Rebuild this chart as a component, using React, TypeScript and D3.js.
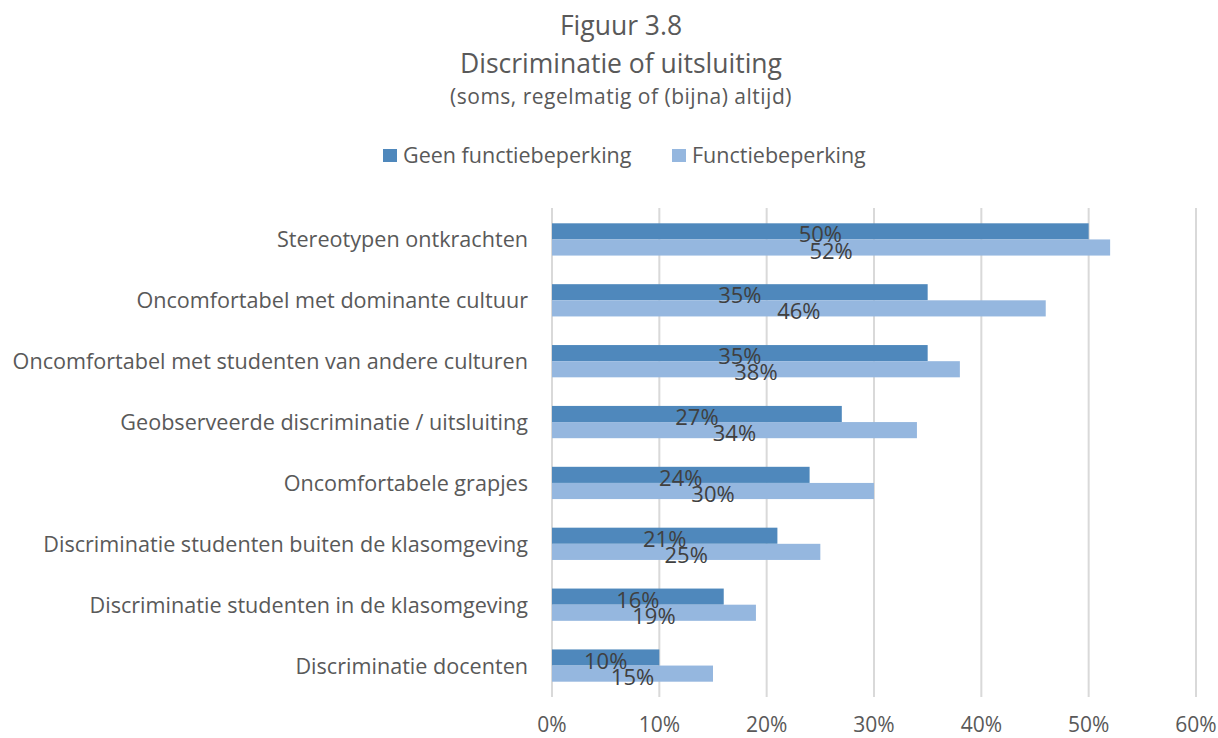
import React from "react";
import * as d3 from "d3";

const categories = [
  "Stereotypen ontkrachten",
  "Oncomfortabel met dominante cultuur",
  "Oncomfortabel met studenten van andere culturen",
  "Geobserveerde discriminatie / uitsluiting",
  "Oncomfortabele grapjes",
  "Discriminatie studenten buiten de klasomgeving",
  "Discriminatie studenten in de klasomgeving",
  "Discriminatie docenten",
];
const seriesNames = ["Geen functiebeperking", "Functiebeperking"];
const geenValues = [50, 35, 35, 27, 24, 21, 16, 10];
const functieValues = [52, 46, 38, 34, 30, 25, 19, 15];
const tickValues = [0, 10, 20, 30, 40, 50, 60];

const colors = ["#4f88bc", "#95b7df"];
const textColor = "#595959";
const font = "'Open Sans', Lato, sans-serif";

const App = () => {
  const width = 1218;
  const height = 738;
  const x = d3.scaleLinear().domain([0, 60]).range([552, 1196]);
  const y = d3.scaleBand().domain(categories).range([209, 696]).paddingInner(0.47).paddingOuter(0.235);
  const sub = d3.scaleBand().domain(seriesNames).range([0, y.bandwidth()]);
  const series = [geenValues, functieValues];

  const cells = categories.flatMap((c, ci) =>
    seriesNames.map((s, si) => ({
      key: `${ci}-${si}`,
      si,
      v: series[si][ci],
      by: (y(c) ?? 0) + (sub(s) ?? 0),
    }))
  );

  return (
    <svg width={width} height={height} style={{ position: "absolute", left: 0, top: 0 }} fontFamily={font}>
      <rect width={width} height={height} fill="#fff" />
      <text x={621} y={35} textAnchor="middle" fontSize={26.5} fill={textColor}>Figuur 3.8</text>
      <text x={621} y={73} textAnchor="middle" fontSize={26.5} fill={textColor}>Discriminatie of uitsluiting</text>
      <text x={621} y={104} textAnchor="middle" fontSize={21} letterSpacing={0.5} fill={textColor}>(soms, regelmatig of (bijna) altijd)</text>

      {seriesNames.map((s, i) => {
        const lx = i === 0 ? 383 : 672;
        return (
          <g key={s}>
            <rect x={lx} y={149} width={14} height={13} fill={colors[i]} />
            <text x={lx + 20} y={163} fontSize={21.5} fill={textColor}>{s}</text>
          </g>
        );
      })}

      {tickValues.map((t) => (
        <g key={t}>
          <line x1={x(t)} x2={x(t)} y1={208} y2={697} stroke="#d9d9d9" strokeWidth={2} />
          <text x={x(t)} y={732} textAnchor="middle" fontSize={21} fill={textColor}>{t}%</text>
        </g>
      ))}

      {categories.map((c) => (
        <text key={c} x={528} y={(y(c) ?? 0) + y.bandwidth() / 2 + 8} textAnchor="end" fontSize={21.6} fill={textColor}>{c}</text>
      ))}

      {cells.map((d) => (
        <rect key={d.key} x={x(0)} y={d.by} width={x(d.v) - x(0)} height={sub.bandwidth()} fill={colors[d.si]} />
      ))}

      {cells.map((d) => (
        <text key={d.key} x={(x(0) + x(d.v)) / 2} y={d.by + sub.bandwidth() + 3} textAnchor="middle" fontSize={22} fill="#404040">{d.v}%</text>
      ))}
    </svg>
  );
};

export default App;
